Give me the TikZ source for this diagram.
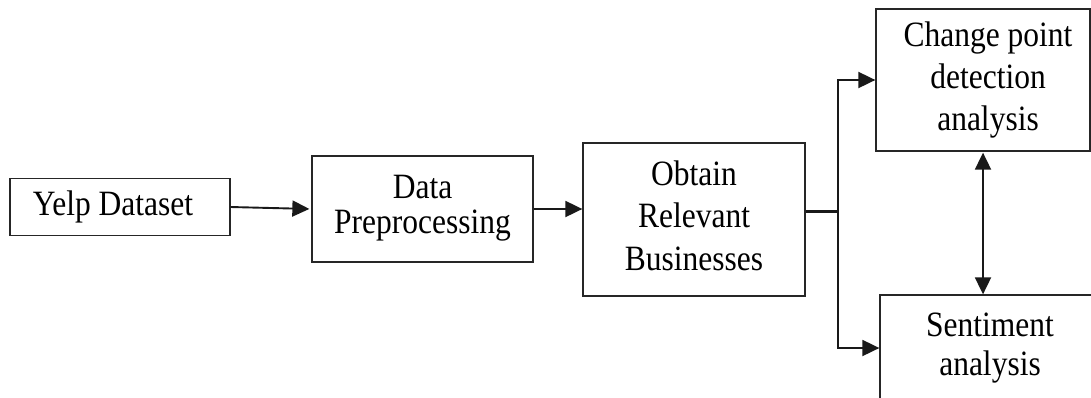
\documentclass[tikz,border=0pt]{standalone}
\usepackage{fontspec}
\setmainfont{Liberation Serif}
\usetikzlibrary{arrows.meta,calc}
\newcommand{\stretchtxt}[1]{\scalebox{1}[1.13]{\begin{tabular}{@{}c@{}}#1\end{tabular}}}
\begin{document}
\begin{tikzpicture}[x=1pt,y=-1pt,
  box/.style={draw=black!85,line width=1.3pt,inner sep=0pt,align=center,font=\fontsize{31.5}{37.5}\selectfont},
  conn/.style={line width=1.9pt,black!90},
  tip/.style={-{Triangle[length=17pt,width=16pt]}}]
\useasboundingbox (0,0) rectangle (1091,397);
\clip (0,0) rectangle (1091,397);
\node[box,minimum width=220pt,minimum height=57pt] (yelp) at (120,207) {\stretchtxt{Yelp Dataset}\hspace*{14pt}};
\node[box,minimum width=221pt,minimum height=106pt,font=\fontsize{31.5}{31}\selectfont] (data) at (422.5,209) {\stretchtxt{Data\\Preprocessing}};
\node[box,minimum width=222pt,minimum height=153pt] (obt) at (694,219.5) {\stretchtxt{Obtain\\Relevant\\Businesses}};
\node[box,minimum width=214pt,minimum height=142pt] (cp) at (983,80) {\hspace*{10pt}\stretchtxt{Change point\\detection\\analysis}};
\node[box,minimum width=220pt,minimum height=106pt,font=\fontsize{31.5}{35}\selectfont] (sent) at (990,348) {\stretchtxt{Sentiment\\analysis}};
\coordinate (split) at (838,211);
\draw[conn,tip,shorten >=2pt] (yelp.east) -- (data.west);
\draw[conn,tip] (data.east) -- (data.east -| obt.west);
\draw[conn,line width=3pt] (split -| obt.east) -- (split);
\draw[conn,tip] (split) |- (cp.west);
\draw[conn,tip] (split) |- (sent.west);
\draw[conn,{Triangle[length=17pt,width=16pt]}-{Triangle[length=17pt,width=16pt]},shorten <=1pt] (cp.south) -- (cp.south |- sent.north);
\end{tikzpicture}
\end{document}
